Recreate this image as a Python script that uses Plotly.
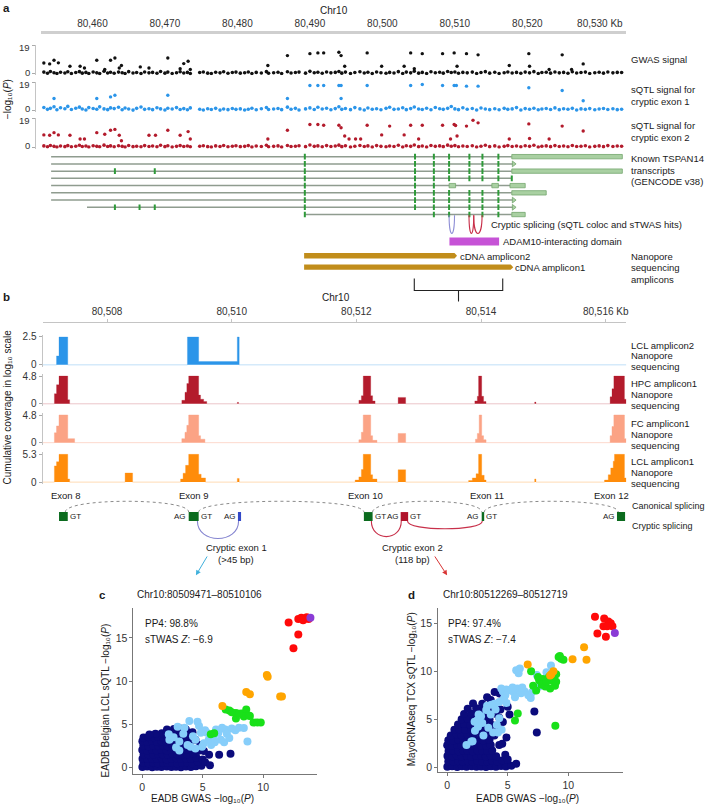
import math
import plotly.graph_objects as go

W, H = 706, 809
FONT = "Liberation Sans, Arial, sans-serif"
INK = "#1a1a1a"
TICK = "#333333"


def fx(px):
    return px / W


def fy(py):
    return 1 - py / H


# ======================= DATA =======================
# ---- panel a axis ----
a_tick_kb = [80460, 80470, 80480, 80490, 80500, 80510, 80520, 80530]
a_tick_text = ["80,460", "80,470", "80,480", "80,490", "80,500", "80,510", "80,520", "80,530 Kb"]
a_range_kb = [80452.84, 80533.65]
track_max = 19

# ---- panel a association tracks (SNP positions in kb, -log10 P) ----
snp_kb = [
    80453.3, 80453.8, 80454.2, 80454.7, 80455.1, 80455.6, 80456.2, 80456.6, 80457.1, 80457.7,
    80458.2, 80458.6, 80459.1, 80459.5, 80460.1, 80460.6, 80461.0, 80461.6, 80462.1, 80462.5,
    80463.0, 80463.6, 80464.1, 80464.5, 80465.0, 80465.6, 80466.1, 80466.7, 80467.2, 80467.8,
    80468.3, 80468.9, 80469.4, 80470.0, 80470.4, 80471.0, 80471.6, 80472.1, 80472.6, 80473.1,
    80473.5, 80474.8, 80475.3, 80475.9, 80476.4, 80477.0, 80477.6, 80478.1, 80478.7, 80479.3,
    80479.8, 80480.4, 80481.0, 80481.5, 80482.0, 80482.6, 80483.3, 80484.0, 80484.3, 80485.0,
    80485.6, 80486.1, 80486.9, 80487.4, 80488.0, 80488.5, 80489.4, 80490.0, 80490.6, 80491.1,
    80491.7, 80492.3, 80492.9, 80493.5, 80494.0, 80494.4, 80494.9, 80495.6, 80496.2, 80496.9,
    80497.5, 80498.0, 80498.6, 80499.2, 80499.8, 80500.5, 80501.0, 80501.6, 80502.2, 80502.8,
    80503.3, 80503.9, 80504.4, 80505.0, 80505.5, 80506.1, 80506.7, 80507.3, 80507.9, 80508.4,
    80509.0, 80509.5, 80510.0, 80510.5, 80511.1, 80511.7, 80512.4, 80513.0, 80513.6, 80514.2,
    80514.8, 80515.5, 80516.1, 80516.8, 80517.3, 80517.9, 80518.5, 80519.1, 80519.7, 80520.3,
    80520.9, 80521.5, 80522.0, 80522.6, 80523.2, 80523.8, 80524.4, 80525.0, 80525.6, 80526.2,
    80526.8, 80527.4, 80528.0, 80528.6, 80529.3, 80529.9, 80530.5, 80531.1, 80531.8, 80532.4,
    80533.0]
gwas_base = [
    1.2, 0.4, 1.6, 0.8, 0.3, 1.1, 0.6, 1.4, 0.2, 0.9, 1.5, 0.5, 1.0, 0.3, 1.3, 0.7, 0.2, 1.8, 0.6, 1.1,
    0.4, 1.2, 0.8, 0.3, 1.5, 0.6, 0.9, 0.2, 1.3, 0.7, 1.0, 0.4, 1.6, 0.5, 1.2, 0.3, 0.8, 1.4, 0.6, 1.0,
    0.2, 0.9, 1.3, 0.5, 0.3, 1.1, 0.7, 1.4, 0.4, 0.9, 1.2, 0.5, 0.8, 1.3, 0.3, 1.0, 0.6, 1.5, 0.4, 0.8,
    1.1, 0.3, 1.4, 0.6, 0.9, 1.2, 0.5, 1.7, 0.8, 1.1, 0.4, 1.3, 0.7, 1.0, 1.6, 0.5, 1.2, 0.3, 0.9, 1.4,
    0.6, 1.1, 0.2, 1.3, 0.8, 0.4, 1.0, 0.6, 1.5, 0.3, 1.2, 0.7, 1.8, 0.5, 1.0, 0.3, 1.4, 0.8, 1.1, 0.5,
    1.6, 0.9, 1.3, 0.4, 1.0, 0.7, 1.2, 0.3, 0.9, 1.5, 0.5, 1.1, 0.3, 0.8, 1.3, 0.6, 1.0, 0.4, 1.2, 0.7,
    1.5, 0.3, 0.9, 1.1, 0.5, 1.3, 0.7, 1.0, 0.4, 1.4, 0.6, 0.9, 1.2, 0.3, 0.8, 1.1, 0.5, 1.3, 0.7, 1.0,
    0.9]
sqtl1_base = [
    2.1, 0.8, 1.5, 2.6, 0.5, 1.9, 1.2, 2.8, 0.7, 1.6, 2.3, 1.0, 0.4, 2.0, 1.4, 0.9, 2.5, 1.1, 0.6, 1.8,
    1.3, 2.2, 0.5, 1.7, 1.0, 0.3, 1.5, 2.4, 0.8, 1.2, 0.6, 1.9, 1.1, 0.4, 1.6, 1.0, 2.0, 0.7, 1.3, 0.5,
    1.8, 0.9, 0.4, 1.2, 0.7, 1.5, 0.3, 1.0, 0.6, 1.4, 0.8, 1.1, 0.4, 0.9, 1.6, 0.5, 1.2, 2.1, 0.7, 1.0,
    1.4, 0.6, 2.3, 0.9, 1.5, 0.4, 1.1, 1.8, 0.7, 2.2, 1.0, 1.6, 0.5, 1.3, 2.6, 0.8, 1.4, 0.6, 2.0, 1.1,
    0.4, 1.7, 0.9, 1.2, 0.5, 1.5, 2.2, 0.8, 1.0, 1.9, 0.6, 1.3, 2.4, 1.0, 0.7, 1.6, 0.5, 2.1, 1.2, 0.8,
    1.5, 2.7, 1.1, 0.6, 1.9, 0.9, 1.4, 0.4, 1.7, 1.0, 0.6, 1.2, 0.5, 1.5, 0.8, 1.1, 2.0, 0.4, 1.3, 0.9,
    1.6, 0.5, 1.0, 1.4, 0.7, 1.8, 0.6, 1.2, 0.9, 1.5, 0.4, 1.1, 0.8, 1.3, 0.5, 1.0, 1.4, 0.7, 1.2, 0.6,
    0.9]
sqtl2_base = [
    0.9, 0.3, 1.2, 0.6, 0.2, 0.8, 0.4, 1.1, 0.3, 0.7, 1.3, 0.5, 0.8, 0.2, 1.0, 0.6, 0.3, 1.4, 0.5, 0.9,
    0.3, 1.0, 0.6, 0.2, 1.2, 0.4, 0.7, 0.3, 1.1, 0.5, 0.8, 0.3, 1.3, 0.4, 1.0, 0.2, 0.6, 1.1, 0.5, 0.8,
    0.3, 0.7, 1.0, 0.4, 0.2, 0.9, 0.5, 1.2, 0.3, 0.7, 1.0, 0.4, 0.6, 1.1, 0.2, 0.8, 0.5, 1.3, 0.3, 0.6,
    0.9, 0.2, 1.2, 0.5, 0.7, 1.0, 0.4, 1.5, 0.6, 0.9, 0.3, 1.1, 0.5, 0.8, 1.4, 0.4, 1.0, 0.2, 0.7, 1.2,
    0.5, 0.9, 0.2, 1.1, 0.6, 0.3, 0.8, 0.5, 1.3, 0.2, 1.0, 0.6, 1.5, 0.4, 0.8, 0.2, 1.2, 0.6, 0.9, 0.4,
    1.4, 0.7, 1.1, 0.3, 0.8, 0.5, 1.0, 0.2, 0.7, 1.3, 0.4, 0.9, 0.2, 0.6, 1.1, 0.5, 0.8, 0.3, 1.0, 0.6,
    1.3, 0.2, 0.7, 0.9, 0.4, 1.1, 0.5, 0.8, 0.3, 1.2, 0.5, 0.7, 1.0, 0.2, 0.6, 0.9, 0.4, 1.1, 0.5, 0.8,
    0.7]
gwas_hi_kb = [80453.3, 80454.1, 80454.7, 80455.3, 80456.9, 80458.3, 80458.9, 80460.6, 80461.7, 80462.5,
              80463.1, 80463.7, 80464.0, 80466.6, 80467.8, 80470.4, 80472.1, 80472.6, 80473.2, 80473.5,
              80484.2, 80486.9, 80490.0, 80491.1, 80491.9, 80494.0, 80494.3, 80494.8, 80497.9, 80499.9,
              80503.0, 80503.9, 80504.4, 80505.5, 80508.3, 80509.9, 80510.3, 80511.6, 80513.2, 80517.5,
              80520.2, 80520.3, 80523.0, 80524.8, 80526.1, 80527.7]
gwas_hi = [7.3, 6.7, 9.2, 7.4, 5.1, 5.1, 4.0, 9.2, 2.9, 9.2,
           10.7, 4.0, 5.6, 4.7, 4.0, 10.7, 3.4, 6.9, 8.5, 2.9,
           5.6, 12.3, 13.6, 14.1, 14.1, 14.5, 12.3, 5.1, 14.1, 5.1,
           5.1, 14.1, 3.4, 13.6, 13.6, 14.1, 5.1, 13.6, 12.8, 5.6,
           13.6, 5.1, 2.9, 12.8, 2.9, 6.7]
sqtl1_hi_kb = [80454.7, 80460.6, 80462.5, 80463.1, 80470.4, 80486.9, 80490.0, 80491.1, 80491.9, 80494.0,
               80494.3, 80494.3, 80497.9, 80503.9, 80505.5, 80508.3, 80509.9, 80510.2, 80511.6, 80513.2,
               80520.2, 80524.8, 80527.7]
sqtl1_hi = [8.1, 8.1, 9.2, 10.3, 10.3, 8.1, 16.8, 16.8, 16.8, 16.8,
            16.8, 8.1, 16.8, 16.8, 17.5, 16.8, 16.8, 16.8, 16.4, 16.4,
            15.3, 13.5, 6.6]
sqtl2_hi_kb = [80453.3, 80454.1, 80454.7, 80455.3, 80456.9, 80458.3, 80458.9, 80460.6, 80461.7, 80462.5,
               80463.1, 80463.7, 80464.0, 80467.8, 80468.7, 80470.4, 80472.1, 80473.2, 80473.5, 80484.2,
               80486.9, 80490.0, 80491.1, 80491.9, 80494.0, 80494.3, 80494.8, 80495.4, 80496.3, 80497.0,
               80497.9, 80499.9, 80501.0, 80503.0, 80503.9, 80505.0, 80505.5, 80508.3, 80509.4, 80509.9,
               80510.1, 80510.3, 80511.6, 80512.5, 80513.2, 80517.5, 80520.2, 80520.3, 80523.0, 80524.8,
               80527.7]
sqtl2_hi = [8.3, 8.1, 9.8, 8.3, 8.1, 5.5, 5.5, 9.8, 8.7, 11.4,
            12.0, 8.1, 4.4, 8.1, 8.1, 11.4, 8.1, 10.5, 5.5, 5.5,
            11.4, 15.3, 15.3, 14.8, 14.8, 13.1, 7.6, 5.5, 5.5, 5.5,
            14.8, 8.3, 14.2, 8.3, 14.8, 5.5, 14.8, 14.8, 5.5, 15.3,
            14.6, 7.6, 14.2, 18.1, 16.4, 5.5, 15.7, 5.9, 5.5, 14.2,
            10.9]

# ---- TSPAN14 transcripts (kb) ----
tx_start = [80454.3, 80454.3, 80454.3, 80454.3, 80454.3, 80454.3, 80454.3, 80459.25, 80489.3]
tx_end = [80517.85, 80518.1, 80517.85, 80517.85, 80517.6, 80517.85, 80518.1, 80518.1, 80517.85]
tx_exons = [
    [80489.3, 80504.5, 80507.1, 80509.2, 80512.0, 80513.8, 80516.0],
    [80489.3, 80504.5, 80507.1, 80509.2, 80512.0, 80513.8, 80516.0],
    [80463.1, 80468.6, 80489.3, 80504.5, 80507.1, 80509.2, 80512.0, 80513.8, 80516.0],
    [80489.3, 80504.5, 80507.1, 80509.2, 80512.0, 80513.8, 80516.0, 80517.85],
    [80489.3, 80504.5, 80507.1],
    [80489.3, 80504.5, 80507.1, 80509.2, 80512.0, 80513.8, 80516.0],
    [80489.3, 80504.5, 80507.1, 80509.2, 80512.0, 80513.8, 80516.0],
    [80463.1, 80466.5, 80468.6, 80489.3, 80504.5, 80507.1, 80509.2, 80512.0, 80513.8, 80516.0],
    [80489.3, 80507.1, 80509.2, 80512.0, 80513.8, 80516.0],
]
tx_utr = [
    [(80517.85, 80533.1)],
    [],
    [(80517.85, 80533.1)],
    [],
    [(80509.2, 80510.1), (80515.1, 80516.0), (80517.6, 80519.7)],
    [(80517.85, 80522.6)],
    [],
    [],
    [(80517.85, 80519.7)],
]
tx_arrow_kb = [None, 80518.1, None, None, None, None, 80518.1, 80518.1, None]

# ---- panel a annotation tracks (kb) ----
cryptic_arcs_a = [(80509.2, 80509.95, "#8f8fd6"), (80511.95, 80512.6, "#c8304a"), (80512.6, 80513.75, "#c8304a")]
adam10_kb = [80509.25, 80516.1]
amplicon2_kb = [80489.2, 80510.3]
amplicon1_kb = [80489.2, 80518.05]
brace_kb = [80504.4, 80510.5, 80516.6]

# ---- panel b ----
b_tick_kb = [80508, 80510, 80512, 80514, 80516]
b_tick_text = ["80,508", "80,510", "80,512", "80,514", "80,516 Kb"]
b_range_kb = [80506.97, 80516.33]

lcl2_edges = [80506.97, 80507.19, 80507.23, 80507.37, 80509.29, 80509.47, 80510.09, 80510.12, 80516.33]
lcl2_h = [0, 0.8, 2.5, 0, 2.5, 0.3, 2.5, 0, 0]

hpc_edges = [80506.97, 80507.156, 80507.19, 80507.23, 80507.37, 80507.40,
             80509.20, 80509.25, 80509.28, 80509.31, 80509.47, 80509.50, 80509.55, 80509.60,
             80510.09, 80510.11,
             80512.04, 80512.08, 80512.11, 80512.23, 80512.26, 80512.30,
             80512.67, 80512.79,
             80513.90, 80513.94, 80513.96, 80514.01, 80514.04, 80514.08,
             80514.86, 80514.88,
             80516.07, 80516.10, 80516.13, 80516.30, 80516.33]
hpc_h = [0, 1.75, 3.3, 4.8, 0.7, 0,
         0.6, 2.0, 3.5, 4.8, 1.5, 0.8, 0.4, 0,
         0.25, 0,
         0.6, 1.4, 4.8, 1.4, 0.5, 0,
         1.1, 0,
         0.5, 1.3, 4.8, 1.3, 0.4, 0,
         0.3, 0,
         1.2, 2.6, 4.8, 0.8, 0.8]

fc_edges = [80506.97, 80507.156, 80507.19, 80507.23, 80507.37, 80507.48,
            80509.20, 80509.25, 80509.28, 80509.31, 80509.47, 80509.50, 80509.57,
            80512.04, 80512.08, 80512.11, 80512.23, 80512.26, 80512.33,
            80512.67, 80512.79,
            80513.91, 80513.94, 80513.97, 80514.01, 80514.04, 80514.08,
            80516.07, 80516.10, 80516.13, 80516.30, 80516.33]
fc_h = [0, 1.7, 2.9, 4.8, 0.7, 0,
        0.7, 1.8, 3.0, 4.8, 1.2, 0.6, 0,
        0.5, 1.8, 4.8, 1.2, 0.4, 0,
        1.6, 0,
        0.6, 1.6, 4.8, 1.2, 0.5, 0,
        1.2, 2.8, 4.8, 0.7, 0.7]

lcl1_edges = [80506.97, 80507.156, 80507.19, 80507.23, 80507.37, 80507.40,
              80508.29, 80508.41,
              80509.18, 80509.22, 80509.26, 80509.31, 80509.47, 80509.51, 80509.58,
              80510.09, 80510.12,
              80511.98, 80512.04, 80512.08, 80512.11, 80512.23, 80512.26, 80512.33,
              80512.67, 80512.79,
              80513.80, 80513.86, 80513.92, 80513.96, 80514.01, 80514.05, 80514.08,
              80514.86, 80514.88,
              80515.98, 80516.04, 80516.08, 80516.12, 80516.14, 80516.30, 80516.33]
lcl1_h = [0, 3.1, 3.9, 5.3, 0.6, 0,
          1.74, 0,
          0.6, 1.7, 3.2, 5.3, 1.5, 0.8, 0,
          0.7, 0,
          0.4, 1.0, 2.4, 5.3, 1.4, 0.6, 0,
          2.36, 0,
          0.3, 0.8, 1.6, 5.3, 1.3, 0.4, 0,
          0.6, 0,
          0.4, 1.4, 2.7, 4.0, 5.3, 0.8, 0.8]

cov_tracks = ["LCL amplicon2", "HPC amplicon1", "FC amplicon1", "LCL amplicon1"]
cov_max = [2.5, 4.8, 4.8, 5.3]

# splicing diagram (kb)
diag_exons = [(80507.23, 80507.37), (80509.31, 80509.47), (80512.12, 80512.26), (80514.01, 80514.05), (80516.18, 80516.31)]
diag_exon_names = ["Exon 8", "Exon 9", "Exon 10", "Exon 11", "Exon 12"]
diag_exon_label_kb = [80507.34, 80509.39, 80512.15, 80514.09, 80516.09]
diag_cryptic1 = (80510.10, 80510.15)
diag_cryptic2 = (80512.71, 80512.83)
diag_sites = [("GT", 80507.39, "left"), ("AG", 80509.29, "right"), ("GT", 80509.49, "left"),
              ("AG", 80510.08, "right"), ("GT", 80512.275, "left"), ("AG", 80512.70, "right"),
              ("GT", 80512.85, "left"), ("AG", 80513.99, "right"), ("GT", 80514.07, "left"),
              ("AG", 80516.16, "right")]
canonical_junctions = [(80507.33, 80509.31), (80509.47, 80512.12), (80512.26, 80514.01), (80514.05, 80516.20)]
cryptic_junctions = [(80509.45, 80510.11, "#8585d0"), (80512.24, 80512.72, "#c8304a"), (80512.82, 80514.02, "#c8304a")]

# ---- panels c, d (x: EADB GWAS -log10 P, y: sQTL -log10 P) ----
c_navy = [(0.02, 0.05), (0.41, 0.1), (0.83, 0.02), (1.22, 0.08), (1.6, 0.04), (2.03, 0.1), (2.42, 0.03), (2.8, 0.07),
          (3.21, 0.02), (3.62, 0.09), (4.03, 0.05), (4.45, 0.12), (4.9, 0.2),
          (0.1, 0.52), (0.52, 0.48), (0.9, 0.55), (1.3, 0.47), (1.72, 0.53), (2.1, 0.5), (2.5, 0.56), (2.92, 0.45),
          (3.3, 0.51), (3.7, 0.58), (4.12, 0.49), (4.6, 0.62),
          (0.03, 1.0), (0.42, 0.97), (0.8, 1.05), (1.21, 0.98), (1.63, 1.03), (2.0, 0.95), (2.41, 1.02), (2.82, 1.06),
          (3.2, 0.96), (3.61, 1.04), (4.02, 1.0), (4.5, 1.08), (5.0, 0.9),
          (0.12, 1.48), (0.5, 1.53), (0.92, 1.46), (1.31, 1.55), (1.7, 1.5), (2.12, 1.45), (2.52, 1.54), (2.9, 1.5),
          (3.32, 1.47), (3.72, 1.52), (4.2, 1.6),
          (0.01, 2.02), (0.4, 1.97), (0.82, 2.05), (1.2, 1.98), (1.61, 2.03), (2.02, 1.96), (2.43, 2.04), (2.8, 2.0),
          (3.22, 1.95), (3.6, 2.06), (4.1, 2.1), (4.62, 1.9),
          (0.1, 2.5), (0.51, 2.46), (0.9, 2.55), (1.32, 2.48), (1.71, 2.53), (2.1, 2.45), (2.52, 2.52), (2.9, 2.47),
          (3.3, 2.56), (3.8, 2.5),
          (0.02, 3.02), (0.42, 2.96), (0.81, 3.05), (1.22, 2.98), (1.6, 3.04), (2.01, 2.97), (2.4, 3.06), (2.82, 3.0),
          (3.21, 2.95), (3.62, 3.03),
          (0.11, 3.45), (0.5, 3.52), (0.92, 3.48), (1.3, 3.55), (1.72, 3.5), (2.11, 3.47), (2.6, 3.56), (3.0, 3.5),
          (3.4, 3.53), (3.82, 3.48),
          (1.62, 3.95), (2.02, 4.02), (2.42, 3.98), (2.9, 4.05), (3.3, 4.0), (3.72, 4.08),
          (2.05, 4.4), (2.62, 4.45), (3.12, 4.5), (3.6, 4.42),
          (4.16, 4.06), (2.93, 4.52), (5.53, 1.46), (6.36, 1.46), (7.3, 1.57), (5.2, 0.6), (4.8, 2.6), (5.6, 0.25),
          (4.4, 3.2), (3.9, 2.8), (5.1, 1.9), (1.1, 3.9), (0.6, 3.8)]
c_lightblue = [(3.9, 5.37), (4.57, 5.3), (4.7, 4.8), (2.93, 4.7), (3.5, 4.6), (2.25, 3.2), (3.07, 3.0), (3.75, 2.6),
               (3.07, 1.95), (4.4, 2.2), (4.95, 2.4), (5.5, 3.2), (5.9, 3.6), (6.3, 4.0), (6.87, 4.4), (7.4, 4.5),
               (8.0, 4.6), (8.4, 4.55), (8.7, 3.0), (6.77, 2.9), (5.35, 4.0), (6.0, 2.9), (4.2, 3.6), (4.4, 3.2),
               (4.85, 4.0), (2.2, 3.85), (2.6, 3.5), (3.4, 3.9), (5.1, 2.8), (5.7, 2.6), (6.5, 3.2), (7.0, 3.9),
               (7.7, 4.3), (6.6, 4.6), (5.2, 4.3), (4.0, 2.4), (2.8, 2.3), (7.2, 3.4), (6.1, 4.4)]
c_green = [(5.67, 3.83), (5.95, 3.95), (6.9, 6.7), (7.2, 6.6), (7.75, 6.3), (8.2, 6.25), (8.6, 6.7), (7.75, 5.65),
           (8.4, 5.9), (8.8, 6.0), (9.2, 5.2), (9.5, 5.2), (9.8, 5.2), (7.4, 6.4), (8.0, 6.2), (8.9, 5.95)]
c_orange = [(6.63, 7.1), (8.6, 8.74), (8.9, 8.47), (10.3, 10.7), (10.37, 10.5), (11.4, 8.2), (11.55, 8.2)]
c_red = [(12.1, 16.8), (12.9, 15.4), (12.5, 13.8), (12.9, 17.2), (13.15, 17.35), (13.4, 17.25), (13.6, 17.4),
         (13.3, 17.05), (13.75, 17.2)]
c_purple = [(13.9, 17.35)]

d_navy = [(0.02, 0.05), (0.41, 0.1), (0.83, 0.02), (1.22, 0.08), (1.6, 0.04), (2.03, 0.1), (2.42, 0.03), (2.8, 0.07),
          (3.21, 0.02), (3.62, 0.09), (4.03, 0.05), (4.45, 0.12), (4.85, 0.06), (5.3, 0.15),
          (0.1, 0.6), (0.52, 0.56), (0.9, 0.63), (1.3, 0.57), (1.72, 0.62), (2.1, 0.58), (2.5, 0.64), (2.92, 0.55),
          (3.3, 0.6), (3.7, 0.66), (4.12, 0.59), (4.55, 0.7),
          (0.03, 1.15), (0.42, 1.12), (0.8, 1.2), (1.21, 1.13), (1.63, 1.18), (2.0, 1.1), (2.41, 1.17), (2.82, 1.21),
          (3.2, 1.11), (3.61, 1.19), (4.05, 1.14),
          (0.12, 1.68), (0.5, 1.73), (0.92, 1.66), (1.31, 1.75), (1.7, 1.7), (2.12, 1.65), (2.52, 1.74), (2.9, 1.7),
          (3.32, 1.67), (3.72, 1.72),
          (0.01, 2.27), (0.4, 2.22), (0.82, 2.3), (1.2, 2.23), (1.61, 2.28), (2.02, 2.21), (2.43, 2.29), (2.8, 2.25),
          (3.22, 2.2), (3.6, 2.31), (4.3, 2.3),
          (0.1, 2.8), (0.51, 2.76), (0.9, 2.85), (1.32, 2.78), (1.71, 2.83), (2.1, 2.75), (2.6, 2.82), (3.0, 2.77),
          (3.5, 2.86),
          (0.3, 3.3), (0.8, 3.4), (1.2, 3.32), (1.7, 3.38), (2.2, 3.3), (2.8, 3.42), (3.3, 3.35), (3.9, 3.3),
          (0.6, 3.9), (1.0, 3.95), (1.5, 3.86), (2.0, 3.92), (2.9, 3.98), (3.4, 3.88), (4.2, 3.95),
          (0.9, 4.45), (1.4, 4.5), (1.9, 4.4), (2.3, 4.52), (3.1, 4.46), (3.7, 4.4),
          (1.2, 5.0), (1.7, 5.05), (2.2, 4.96), (2.9, 5.1), (3.5, 5.0), (4.3, 5.15),
          (1.4, 5.55), (2.0, 5.6), (2.6, 5.5), (3.3, 5.62), (4.0, 5.58),
          (1.7, 6.1), (2.4, 6.15), (3.0, 6.05), (3.8, 6.2),
          (2.14, 6.63), (3.92, 7.84), (4.33, 7.67), (3.6, 7.0), (5.0, 6.3), (5.15, 5.5), (7.2, 5.8), (7.4, 3.6),
          (5.7, 0.36), (4.55, 2.43), (4.9, 3.1), (4.6, 4.7), (4.4, 6.0), (2.9, 6.6), (4.8, 1.3), (5.0, 0.8),
          (3.3, 7.3)]
d_lightblue = [(5.7, 10.1), (6.0, 10.3), (5.9, 9.8), (7.4, 9.6), (8.57, 10.6), (8.2, 9.9), (4.6, 7.9), (4.9, 8.1),
               (5.2, 8.0), (5.5, 7.8), (5.8, 8.2), (6.1, 7.7), (6.4, 7.9), (6.7, 7.5), (7.0, 7.8), (6.2, 8.3),
               (5.4, 8.3), (4.8, 7.5), (5.6, 7.3), (6.9, 7.2), (7.2, 8.1), (7.6, 8.4), (3.23, 5.95), (3.6, 5.5),
               (4.0, 6.0), (3.9, 6.6), (4.3, 6.8), (3.3, 6.4), (2.5, 4.9), (2.1, 2.7), (3.4, 4.1), (4.1, 4.4),
               (4.3, 5.1), (2.9, 4.6), (3.0, 3.3), (3.8, 3.6), (4.5, 3.9), (2.3, 3.8), (1.6, 2.3), (2.6, 5.5),
               (4.9, 6.7), (4.7, 7.2), (3.64, 6.5), (2.8, 5.3), (2.27, 4.74), (2.55, 4.2), (4.2, 3.6), (2.0, 2.67),
               (4.47, 8.2)]
d_green = [(9.2, 11.5), (9.4, 11.3), (9.6, 11.2), (9.3, 11.6), (6.93, 10.0), (7.6, 9.05), (7.9, 9.2), (8.4, 9.4),
           (8.7, 9.0), (8.9, 8.5), (8.5, 8.2), (7.1, 8.5), (7.35, 8.0), (7.8, 8.6), (8.1, 8.4), (9.0, 9.7),
           (9.0, 8.9), (5.83, 5.6), (5.6, 4.85), (8.93, 4.32), (7.5, 9.4), (8.2, 8.9)]
d_orange = [(6.65, 10.7), (10.35, 11.25), (8.77, 10.0), (8.6, 9.7), (8.5, 9.55), (11.3, 12.5), (11.5, 11.2)]
d_red = [(12.2, 15.7), (12.96, 15.5), (13.3, 15.2), (13.5, 15.0), (13.64, 14.7), (12.9, 14.7), (13.2, 14.7),
         (12.4, 13.95), (13.1, 13.6)]
d_purple = [(13.84, 14.0)]

# ======================= STYLE =======================
COL_BLACK = "#111111"
COL_BLUE = "#2b95e9"
COL_DRED = "#b31b2c"
COV_COLORS = ["#2b95e9", "#b31b2c", "#fba385", "#ff8c0a"]
COV_BASE = ["rgba(43,149,233,0.3)", "rgba(179,27,44,0.25)", "rgba(251,163,133,0.4)", "rgba(255,140,10,0.3)"]
GREEN_EX = "#2f9a3a"
UTR_FILL = "#a9d0a2"
UTR_LINE = "#74a66d"
GOLD = "#c18d1b"
MAGENTA = "#c653d6"
SC_COLORS = {"navy": "#0b0b7c", "lb": "#87cefa", "green": "#19e019", "orange": "#ffa500",
             "red": "#ff0a0a", "purple": "#8a3bd6"}
LOG10 = "−log₁₀(<i>P</i>)"

fig = go.Figure()

# ---------------- panel a: association tracks ----------------
tracks = [("y", gwas_base, gwas_hi_kb, gwas_hi, COL_BLACK),
          ("y2", sqtl1_base, sqtl1_hi_kb, sqtl1_hi, COL_BLUE),
          ("y3", sqtl2_base, sqtl2_hi_kb, sqtl2_hi, COL_DRED)]
for yax, base, hkb, hv, col in tracks:
    fig.add_trace(go.Scatter(x=snp_kb, y=base, mode="markers", xaxis="x", yaxis=yax,
                             marker=dict(size=3.6, color=col), hoverinfo="skip", showlegend=False))
    fig.add_trace(go.Scatter(x=hkb, y=hv, mode="markers", xaxis="x", yaxis=yax,
                             marker=dict(size=3.4, color=col), hoverinfo="skip", showlegend=False))

# ---------------- panel a: transcripts ----------------
ROW0, ROWSTEP = 155.0, 7.3
line_x, line_y, ex_x, ex_y = [], [], [], []
shapes = []
for i in range(len(tx_start)):
    ry = ROW0 + ROWSTEP * i
    line_x += [tx_start[i], tx_end[i], None]
    line_y += [ry, ry, None]
    ex_x += tx_exons[i]
    ex_y += [ry] * len(tx_exons[i])
    for u0, u1 in tx_utr[i]:
        shapes.append(dict(type="rect", xref="x", yref="y4", x0=u0, x1=u1, y0=ry - 2.2, y1=ry + 2.2,
                           fillcolor=UTR_FILL, line=dict(color=UTR_LINE, width=0.8), layer="above"))
fig.add_trace(go.Scatter(x=line_x, y=line_y, mode="lines", xaxis="x", yaxis="y4",
                         line=dict(color="#8f9c8f", width=1.5), hoverinfo="skip", showlegend=False))
fig.add_trace(go.Scatter(x=ex_x, y=ex_y, mode="markers", xaxis="x", yaxis="y4",
                         marker=dict(symbol="line-ns", size=4, line=dict(width=2, color=GREEN_EX)),
                         hoverinfo="skip", showlegend=False))
arr_x = [k for k in tx_arrow_kb if k is not None]
arr_y = [ROW0 + ROWSTEP * i for i, k in enumerate(tx_arrow_kb) if k is not None]
fig.add_trace(go.Scatter(x=arr_x, y=arr_y, mode="markers", xaxis="x", yaxis="y4",
                         marker=dict(symbol="triangle-right", size=5, color=UTR_FILL,
                                     line=dict(color=UTR_LINE, width=0.8)),
                         hoverinfo="skip", showlegend=False))

# cryptic splicing arcs (panel a)
for k0, k1, col in cryptic_arcs_a:
    shapes.append(dict(type="path", xref="x", yref="y4",
                       path=f"M {k0},214 C {k0},238.5 {k1},238.5 {k1},214",
                       line=dict(color=col, width=1.1)))
# ADAM10 domain and amplicons
shapes.append(dict(type="rect", xref="x", yref="y4", x0=adam10_kb[0], x1=adam10_kb[1], y0=236.5, y1=244.5,
                   fillcolor=MAGENTA, line=dict(width=0)))
for (k0, k1), yc in [(amplicon2_kb, 255.0), (amplicon1_kb, 266.5)]:
    shapes.append(dict(type="path", xref="x", yref="y4",
                       path=f"M {k0},{yc-2.7} L {k1-0.35},{yc-2.7} L {k1},{yc} L {k1-0.35},{yc+2.7} L {k0},{yc+2.7} Z",
                       fillcolor=GOLD, line=dict(width=0)))
b0, bc, b1 = brace_kb
shapes.append(dict(type="path", xref="x", yref="y4",
                   path=f"M {b0},278 L {b0},290 L {b1},290 L {b1},278 M {bc},290 L {bc},301",
                   line=dict(color="#222", width=1.1)))

# ---------------- panel b: coverage ----------------
cov_data = [(lcl2_edges, lcl2_h), (hpc_edges, hpc_h), (fc_edges, fc_h), (lcl1_edges, lcl1_h)]
for j, (ed, hh) in enumerate(cov_data):
    fig.add_trace(go.Scatter(x=ed, y=hh, mode="lines", xaxis="x2", yaxis=f"y{5 + j}",
                             line=dict(shape="hv", color=COV_BASE[j], width=1),
                             fill="tozeroy", fillcolor=COV_COLORS[j],
                             hoverinfo="skip", showlegend=False))

# ---------------- panel b: splicing diagram ----------------
BOX_T, BOX_B = 513.5, 522.5
for k0, k1 in diag_exons:
    shapes.append(dict(type="rect", xref="x2", yref="y9", x0=k0, x1=k1, y0=BOX_T, y1=BOX_B,
                       fillcolor="#0b6b1e", line=dict(width=0)))
shapes.append(dict(type="rect", xref="x2", yref="y9", x0=diag_cryptic1[0], x1=diag_cryptic1[1],
                   y0=BOX_T, y1=BOX_B, fillcolor="#3348c8", line=dict(width=0)))
shapes.append(dict(type="rect", xref="x2", yref="y9", x0=diag_cryptic2[0], x1=diag_cryptic2[1],
                   y0=BOX_T, y1=BOX_B, fillcolor="#b0132b", line=dict(width=0)))
for k0, k1 in canonical_junctions:
    shapes.append(dict(type="path", xref="x2", yref="y9",
                       path=f"M {k0},{BOX_T} C {k0},499 {k1},499 {k1},{BOX_T}",
                       line=dict(color="#8a8a8a", width=1, dash="dot")))
for (k0, k1, col), depth in zip(cryptic_junctions, [546.0, 543.5, 533.0]):
    shapes.append(dict(type="path", xref="x2", yref="y9",
                       path=f"M {k0},{BOX_B} C {k0},{depth} {k1},{depth} {k1},{BOX_B}",
                       line=dict(color=col, width=1.1)))


def arrow(x0, y0, x1, y1, col):
    """Pointer arrow drawn as shapes (pixel layout coordinates)."""
    L = math.hypot(x1 - x0, y1 - y0)
    dx, dy = (x1 - x0) / L, (y1 - y0) / L
    hl, hw = 5.0, 2.6
    bx, by = x1 - hl * dx, y1 - hl * dy
    nx, ny = -dy, dx
    shapes.append(dict(type="line", xref="paper", yref="paper", x0=fx(x0), y0=fy(y0), x1=fx(bx), y1=fy(by),
                       line=dict(color=col, width=1)))
    pts = [(x1, y1), (bx + hw * nx, by + hw * ny), (bx - hw * nx, by - hw * ny)]
    path = "M " + " L ".join(f"{fx(px)},{fy(py)}" for px, py in pts) + " Z"
    shapes.append(dict(type="path", xref="paper", yref="paper", path=path, fillcolor=col, line=dict(width=0)))


arrow(208.0, 558.3, 196.8, 577.3, "#3fb0dc")
arrow(436.7, 558.3, 449.0, 577.3, "#d83434")


# ---------------- panels c and d ----------------
def add_sc(points, col, xa, ya):
    fig.add_trace(go.Scatter(x=[p[0] for p in points], y=[p[1] for p in points], mode="markers",
                             xaxis=xa, yaxis=ya, marker=dict(size=8, color=col, line=dict(width=0)),
                             hoverinfo="skip", showlegend=False))


for pts, key in [(c_navy, "navy"), (c_lightblue, "lb"), (c_green, "green"), (c_orange, "orange"),
                 (c_red, "red"), (c_purple, "purple")]:
    add_sc(pts, SC_COLORS[key], "x3", "y10")
for pts, key in [(d_navy, "navy"), (d_lightblue, "lb"), (d_green, "green"), (d_orange, "orange"),
                 (d_red, "red"), (d_purple, "purple")]:
    add_sc(pts, SC_COLORS[key], "x4", "y11")

# ======================= AXES =======================
tickfont = dict(family=FONT, size=10, color=TICK)


def track_y(bottom, top, rng, vals, labels, pos, show_labels=True):
    return dict(domain=[fy(bottom), fy(top)], range=rng, anchor="free", position=fx(pos),
                tickvals=vals, ticktext=labels, ticks="outside", ticklen=3, tickcolor="#aaaaaa",
                showticklabels=show_labels,
                showline=True, linecolor="#c4c4c4", linewidth=1, tickfont=tickfont,
                showgrid=False, zeroline=False, fixedrange=True)


hidden_px = dict(domain=[0, 1], range=[H, 0], visible=False, showgrid=False, zeroline=False, fixedrange=True)
sc_axis = dict(showline=True, linecolor="#777777", linewidth=1, ticks="outside", ticklen=3,
               tickcolor="#777777", tickfont=dict(family=FONT, size=10.5, color=TICK),
               showgrid=False, zeroline=False, fixedrange=True)

cov_px = [(367.0, 334.6), (406.3, 374.0), (445.5, 413.3), (485.3, 453.0)]
cov_ranges = []
for (bot, top), mx, zero_px in zip(cov_px, cov_max, [365.0, 404.3, 443.5, 483.3]):
    ppu = (zero_px - (top + 2.3)) / mx
    cov_ranges.append([-(bot - zero_px) / ppu, (zero_px - top) / ppu])

assoc_px = [(73.0, 42.25), (110.0, 79.25), (147.0, 116.25)]
assoc_range = [-1, 19.5]

layout_axes = dict(
    xaxis=dict(domain=[fx(40.7), fx(629)], range=a_range_kb, anchor="free", position=fy(29), side="top",
               showline=True, linecolor="#cfcfcf", linewidth=3, ticks="", tickvals=a_tick_kb,
               ticktext=a_tick_text, tickfont=tickfont, showgrid=False, zeroline=False, fixedrange=True),
    yaxis4=dict(hidden_px, anchor="x"),
    xaxis2=dict(domain=[fx(43), fx(629)], range=b_range_kb, anchor="free", position=fy(321.5), side="top",
                showline=True, linecolor="#c4c4c4", linewidth=1, ticks="outside", ticklen=3,
                tickcolor="#c4c4c4", tickvals=b_tick_kb, ticktext=b_tick_text, tickfont=tickfont,
                showgrid=False, zeroline=False, fixedrange=True),
    yaxis9=dict(hidden_px, anchor="x2"),
    xaxis3=dict(sc_axis, domain=[fx(134), fx(318.3)], range=[-0.72, 14.44], anchor="y10", tickvals=[0, 5, 10]),
    yaxis10=dict(sc_axis, domain=[fy(778), fy(610)], range=[-0.8, 18.5], anchor="x3", tickvals=[0, 5, 10, 15]),
    xaxis4=dict(sc_axis, domain=[fx(440), fx(626)], range=[-0.74, 14.54], anchor="y11", tickvals=[0, 5, 10]),
    yaxis11=dict(sc_axis, domain=[fy(776), fy(610)], range=[-0.54, 16.63], anchor="x4", tickvals=[0, 5, 10, 15]),
)
for j, key in enumerate(["yaxis", "yaxis2", "yaxis3"]):
    bot, top = assoc_px[j]
    layout_axes[key] = track_y(bot, top, assoc_range, [0, track_max], ["0", str(track_max)], 35,
                               show_labels=False)
for j in range(4):
    bot, top = cov_px[j]
    layout_axes[f"yaxis{5 + j}"] = track_y(bot, top, cov_ranges[j], [0, cov_max[j]],
                                           ["0", f"{cov_max[j]}"], 41.7)

fig.update_layout(**layout_axes)

# ======================= TEXT =======================
annotations = []


def T(text, px, py, size=10, xa="left", ya="middle", color=INK, angle=0, xref="paper", xval=None):
    annotations.append(dict(text=text, x=(fx(px) if xval is None else xval), y=fy(py),
                            xref=xref, yref="paper",
                            xanchor=xa, yanchor=ya, showarrow=False, textangle=angle,
                            borderpad=0, font=dict(family=FONT, size=size, color=color)))


for bot, top in assoc_px:
    ppu = (bot - top) / (assoc_range[1] - assoc_range[0])
    zero_px = bot + assoc_range[0] * ppu
    T(str(track_max), 31.5, zero_px - track_max * ppu + 1.8, size=9.5, xa="right", color=TICK)
    T("0", 31.5, zero_px - 1.8, size=9.5, xa="right", color=TICK)

# panel letters
T("<b>a</b>", 2, 5, size=11.5)
T("<b>b</b>", 2, 297, size=11.5)
T("<b>c</b>", 103, 597, size=11.5, xa="center")
T("<b>d</b>", 413, 597, size=11.5, xa="center")

T("Chr10", 335, 8, xa="center")
T("Chr10", 337, 297, xa="center")
T(LOG10, 7, 97, xa="center", angle=-90)
T("Cumulative coverage in log₁₀ scale", 8, 407, xa="center", angle=-90)

RS = 9.5  # right-hand label size
for txt, py in [("GWAS signal", 56.7), ("sQTL signal for", 87.5), ("cryptic exon 1", 99.5),
                ("sQTL signal for", 124), ("cryptic exon 2", 136), ("Known TSPAN14", 157),
                ("transcripts", 168.5), ("(GENCODE v38)", 180), ("Nanopore", 256), ("sequencing", 267.3),
                ("amplicons", 278.6)]:
    T(txt, 633, py, size=RS)
T("Cryptic splicing (sQTL coloc and sTWAS hits)", 492, 223.5, size=RS)
T("ADAM10-interacting domain", 504, 240.5, size=RS)
T("cDNA amplicon2", 460.5, 255.5, size=RS)
T("cDNA amplicon1", 516, 266.8, size=RS)

for j, name in enumerate(cov_tracks):
    base = [345.0, 384.3, 424.0, 462.7][j]
    T(name, 632.6, base, size=RS)
    T("Nanopore", 632.6, base + 11, size=RS)
    T("sequencing", 632.6, base + 22, size=RS)
T("Canonical splicing", 634, 507, size=9)
T("Cryptic splicing", 634, 528, size=9)

for name, kb in zip(diag_exon_names, diag_exon_label_kb):
    T(name, 0, 496.5, size=9.5, xa="center", xref="x2", xval=kb)
for txt, kb, side in diag_sites:
    T(txt, 0, 518, size=8, xa=side, xref="x2", xval=kb)
T("Cryptic exon 1", 237.5, 549, size=9.5, xa="center")
T("(>45 bp)", 237.5, 561, size=9.5, xa="center")
T("Cryptic exon 2", 414, 549, size=9.5, xa="center")
T("(118 bp)", 414, 561, size=9.5, xa="center")

T("Chr10:80509471–80510106", 136.5, 597)
T("Chr10:80512269–80512719", 443.5, 597)
T("PP4: 98.8%", 145, 626)
T("sTWAS <i>Z</i>: −6.9", 145, 642.5)
T("PP4: 97.4%", 449, 626)
T("sTWAS <i>Z</i>: −7.4", 449, 642.5)
T("EADB GWAS " + LOG10, 203, 802, xa="center")
T("EADB GWAS " + LOG10, 530, 802, xa="center")
T("EADB Belgian LCL sQTL " + LOG10, 106, 704, xa="center", angle=-90)
T("MayoRNAseq TCX sQTL " + LOG10, 413, 692, xa="center", angle=-90)

fig.update_layout(
    width=W, height=H, autosize=False,
    margin=dict(l=0, r=0, t=0, b=0, pad=0),
    paper_bgcolor="white", plot_bgcolor="rgba(0,0,0,0)",
    showlegend=False, shapes=shapes, annotations=annotations,
    font=dict(family=FONT, size=10, color=INK),
    hovermode=False,
)

fig.write_html("out.html", config={"displayModeBar": False, "staticPlot": True},
               post_script="document.body.style.margin='0';document.body.style.padding='0';")
